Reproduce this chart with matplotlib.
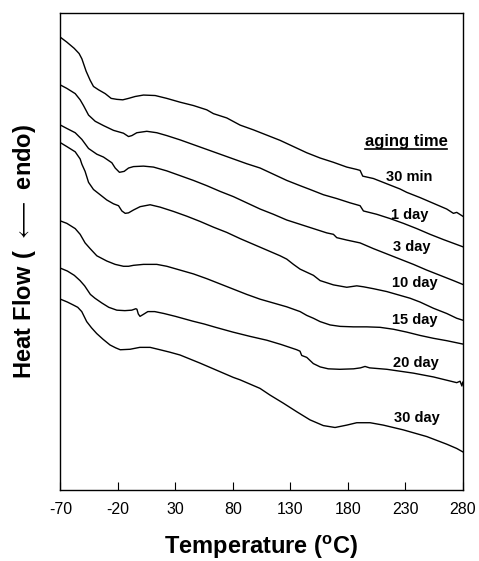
import numpy as np
import matplotlib
matplotlib.use('Agg')
import matplotlib.pyplot as plt

plt.rcParams['font.family'] = ['Liberation Sans', 'DejaVu Sans']
plt.rcParams['axes.unicode_minus'] = False
plt.rcParams['mathtext.fontset'] = 'custom'
plt.rcParams['mathtext.rm'] = 'Liberation Sans'
plt.rcParams['mathtext.bf'] = 'Liberation Sans:bold'

# DSC traces (temperature in C, heat flow in arbitrary units, offset per curve)
T_30min = [-70, -64.5, -58.1, -53.8, -51.4, -47.7, -44.2, -41.3, -36.9, -31.1,
           -25.9, -21.0, -15.8, -10.8, -5.0, 2.2, 12.4, 22.5, 34.1, 45.7,
           57.3, 63.1, 74.7, 86.3, 97.9, 109.5, 121.1, 132.7, 144.3, 155.9,
           167.5, 179.1, 187.8, 190.7, 193.0, 202.3, 213.9, 225.5, 231.3, 242.9,
           254.5, 266.1, 271.9, 274.8, 280.0]
hf_30min = [94.9, 93.9, 92.6, 91.5, 90.4, 87.8, 85.9, 84.6, 83.9, 83.1,
            82.1, 81.9, 81.8, 82.1, 82.5, 82.8, 82.7, 82.1, 81.3, 80.6,
            79.7, 78.9, 78.0, 76.5, 75.5, 74.4, 73.3, 72.0, 70.7, 69.6,
            68.7, 67.7, 67.2, 67.0, 65.8, 65.3, 64.2, 63.1, 62.4, 61.3,
            60.1, 58.9, 58.0, 58.2, 57.4]

T_1day = [-70, -64.5, -57.2, -52.9, -50.0, -45.6, -39.8, -32.6, -23.9, -15.2,
          -10.8, -7.9, -3.6, 5.1, 13.8, 22.5, 34.1, 45.7, 57.3, 68.9,
          80.5, 92.1, 103.7, 115.3, 126.9, 138.5, 147.2, 158.8, 170.4, 182.0,
          190.7, 193.6, 205.2, 216.8, 228.4, 240.0, 251.6, 263.2, 280.0]
hf_1day = [84.9, 84.2, 83.1, 81.8, 80.6, 78.6, 77.3, 76.4, 75.4, 74.8,
           74.1, 74.3, 74.9, 75.2, 74.9, 74.3, 73.4, 72.4, 71.4, 70.4,
           69.4, 68.4, 67.5, 66.2, 64.9, 63.8, 63.0, 61.9, 61.1, 60.2,
           59.6, 58.5, 57.8, 56.9, 55.9, 54.8, 53.6, 52.5, 51.0]

T_3day = [-70, -64.5, -57.2, -51.4, -45.6, -38.4, -32.6, -25.3, -22.4, -18.7,
          -14.6, -10.8, -6.5, 2.2, 10.9, 22.5, 34.1, 45.7, 57.3, 68.9,
          80.5, 92.1, 103.7, 115.3, 126.9, 138.5, 150.1, 161.7, 167.5, 170.4,
          179.1, 190.7, 202.3, 213.9, 225.5, 237.1, 248.7, 260.3, 271.9, 280.0]
hf_3day = [76.5, 75.8, 74.9, 73.5, 71.6, 70.4, 69.8, 68.6, 67.5, 66.6,
           66.8, 67.5, 67.8, 67.9, 67.7, 66.9, 65.9, 64.9, 63.8, 62.6,
           61.5, 60.2, 58.9, 57.8, 56.6, 55.7, 54.8, 53.9, 53.6, 52.9,
           52.4, 51.8, 50.6, 49.5, 48.4, 47.3, 46.1, 45.0, 43.9, 43.1]

T_10day = [-70, -64.5, -57.2, -52.9, -51.4, -48.6, -45.6, -41.3, -35.5, -29.7,
           -23.9, -19.5, -16.6, -13.7, -10.8, -6.5, -0.7, 8.0, 16.7, 28.3,
           39.9, 51.5, 63.1, 74.7, 86.3, 97.9, 109.5, 121.1, 126.9, 132.7,
           138.5, 150.1, 155.9, 167.5, 179.1, 187.8, 193.6, 202.3, 213.9, 225.5,
           234.2, 242.9, 254.5, 266.1, 274.8, 280.0]
hf_10day = [72.8, 72.0, 70.9, 69.4, 68.3, 66.8, 64.5, 63.0, 61.9, 60.8,
            60.0, 59.6, 58.5, 58.0, 58.1, 58.7, 59.4, 59.8, 59.3, 58.4,
            57.4, 56.3, 55.1, 54.0, 52.7, 51.5, 50.3, 49.1, 48.4, 47.3,
            46.3, 45.0, 43.9, 43.0, 42.5, 42.8, 42.6, 42.2, 41.6, 40.8,
            40.2, 39.4, 38.1, 37.0, 36.0, 35.6]

T_15day = [-70, -64.5, -57.2, -52.9, -48.6, -44.2, -38.4, -29.7, -22.4, -15.2,
           -10.8, -6.5, 2.2, 13.8, 22.5, 34.1, 45.7, 57.3, 68.9, 80.5,
           92.1, 103.7, 115.3, 126.9, 132.7, 138.5, 144.3, 150.1, 155.9, 164.6,
           173.3, 184.9, 196.5, 208.1, 219.7, 231.3, 242.9, 254.5, 266.1, 280.0]
hf_15day = [56.4, 55.9, 54.8, 53.6, 51.8, 50.6, 49.1, 48.0, 47.3, 46.9,
            46.9, 47.1, 47.3, 47.3, 46.9, 46.1, 45.3, 44.3, 43.2, 42.1,
            41.0, 40.0, 39.2, 38.4, 37.9, 37.4, 36.6, 36.0, 35.3, 34.6,
            34.3, 34.2, 34.2, 34.1, 33.7, 33.1, 32.4, 31.8, 31.3, 30.6]

T_20day = [-70, -64, -58, -53, -49, -44, -40, -34, -28, -21,
           -14, -8, -4.5, -3.5, -2.3, -0.8, 2.0, 6, 12, 20,
           30, 45, 55, 65, 80, 95, 109.5, 122, 135.6, 138.4,
           139.9, 144.3, 150, 156, 163, 173, 185, 191, 195, 199,
           214, 237, 254.5, 274.8, 277.7, 279.3, 280]
hf_20day = [46.5, 45.9, 45.0, 43.9, 42.8, 41.0, 40.2, 39.2, 38.3, 37.7,
            37.6, 37.7, 38.0, 37.9, 36.9, 36.4, 36.8, 37.4, 37.4, 37.0,
            36.4, 35.4, 34.8, 34.1, 33.1, 32.2, 31.4, 30.5, 29.4, 29.1,
            28.2, 27.8, 26.5, 25.8, 25.4, 25.3, 25.4, 25.6, 25.9, 25.6,
            25.3, 24.5, 23.7, 22.5, 22.8, 21.8, 22.6]

T_30day = [-70, -64, -59, -55, -51.5, -47.2, -43, -38.5, -33, -26.9,
           -22, -18, -9.5, -1, 8, 16.6, 25, 34, 51.4, 68.8,
           80.4, 86.2, 92, 103.6, 112.3, 123.9, 135.6, 147.1, 158.7, 168.9,
           179.1, 187.8, 199.4, 210.9, 228.3, 248.7, 266.1, 274.8, 280]
hf_30day = [40.0, 39.4, 38.8, 38.3, 37.4, 35.3, 34.0, 32.8, 31.6, 30.4,
            29.8, 29.4, 29.5, 29.9, 29.9, 29.4, 28.9, 28.3, 26.6, 24.8,
            23.6, 23.1, 22.5, 21.3, 19.9, 18.2, 16.4, 14.7, 13.5, 13.1,
            13.6, 14.1, 14.1, 13.6, 12.6, 11.2, 9.6, 8.7, 8.0]

labels = ['30 min', '1 day', '3 day', '10 day', '15 day', '20 day', '30 day']
label_x = [0.867, 0.869, 0.874, 0.880, 0.881, 0.884, 0.887]  # axes fraction
label_y = [0.657, 0.576, 0.510, 0.433, 0.356, 0.267, 0.150]
xticks = [-70, -20, 30, 80, 130, 180, 230, 280]

curves = [(T_30min, hf_30min), (T_1day, hf_1day), (T_3day, hf_3day),
          (T_10day, hf_10day), (T_15day, hf_15day), (T_20day, hf_20day),
          (T_30day, hf_30day)]

fig = plt.figure(figsize=(4.79, 5.61), dpi=100)
ax = fig.add_axes([0.1263, 0.1266, 0.8397, 0.8502])

for T, hf in curves:
    ax.plot(T, hf, color='black', lw=1.0)

for lab, x, y in zip(labels, label_x, label_y):
    ax.text(x, y, lab, transform=ax.transAxes, ha='center', va='center',
            fontsize=10.5, fontweight='bold')

t = ax.text(0.859, 0.730, 'aging time', transform=ax.transAxes, ha='center',
            va='center', fontsize=12, fontweight='bold')

ax.set_xlim(-70, 280)
ax.set_ylim(0, 100)
ax.set_xticks(xticks)
ax.set_yticks([])
ax.tick_params(axis='x', direction='in', length=6, width=0.8, labelsize=11.5, pad=9)
for s in ax.spines.values():
    s.set_linewidth(1.0)

ax.set_xlabel(r'Temperature ($\mathbf{^{o}}$C)', fontsize=17, fontweight='bold', labelpad=12)
ax.set_ylabel(r'$\mathbf{Heat\ Flow\ (}\ \longleftarrow\ \mathbf{endo)}$', fontsize=17, labelpad=16)

# underline for the legend title
fig.canvas.draw()
bb = t.get_window_extent().transformed(ax.transAxes.inverted())
ax.plot([bb.x0, bb.x1], [bb.y0, bb.y0], transform=ax.transAxes, color='black', lw=1.2)

fig.savefig('out.png', dpi=100)
